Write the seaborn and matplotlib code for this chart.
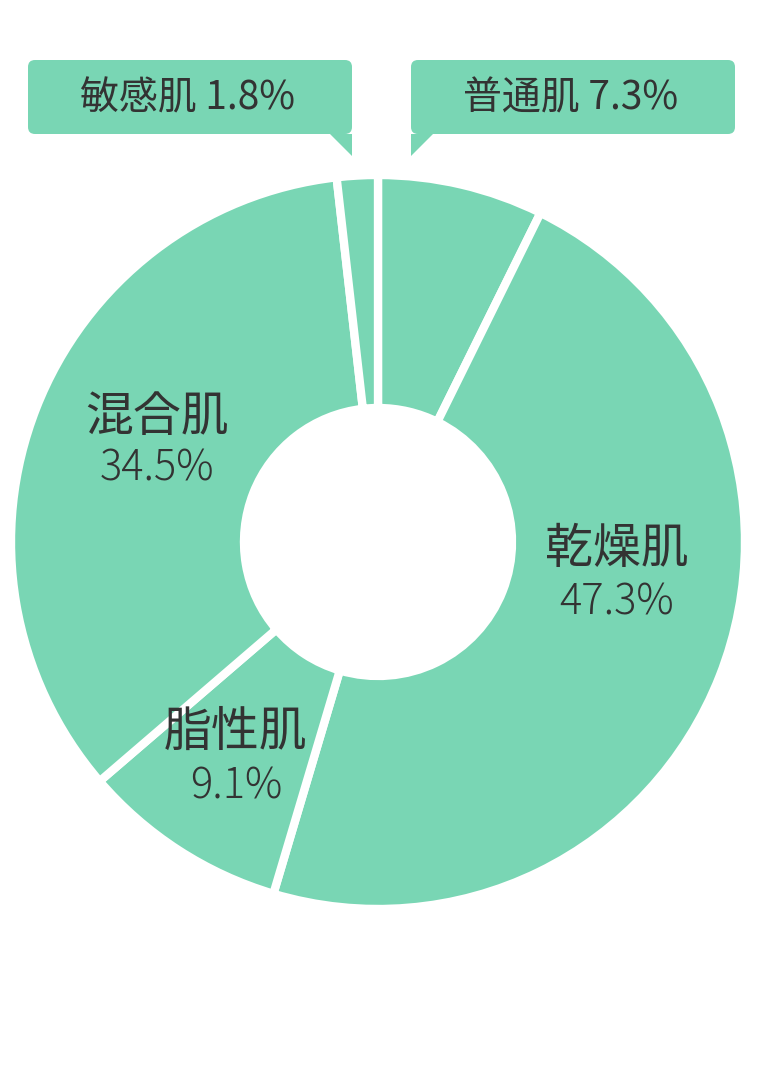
import numpy as np
import matplotlib
matplotlib.use("Agg")
import matplotlib.pyplot as plt
import seaborn as sns
from matplotlib.patches import FancyBboxPatch, Polygon

# Data
skin_types = ["普通肌", "乾燥肌", "脂性肌", "混合肌", "敏感肌"]
shares = [7.3, 47.3, 9.1, 34.5, 1.8]
pct_labels = ["7.3%", "47.3%", "9.1%", "34.5%", "1.8%"]

GREEN = "#79D6B4"
TEXT = "#333333"
W, H = 758, 1086

sns.set_theme(style="white")
plt.rcParams["font.family"] = ["Noto Sans CJK JP", "DejaVu Sans"]

fig = plt.figure(figsize=(W / 100, H / 100), dpi=100)
ax = fig.add_axes([0, 0, 1, 1])


def iy(y):
    # image y (top-down) -> axes y
    return H - y


# Donut
ax.pie(shares, colors=[GREEN] * len(shares), startangle=90, counterclock=False,
       center=(378, iy(542)), radius=367, frame=True,
       wedgeprops=dict(width=233, edgecolor="white", linewidth=6))
ax.set_xlim(0, W)
ax.set_ylim(0, H)
ax.set_aspect("equal")
ax.axis("off")

# Labels inside the ring
inner = {"乾燥肌": (617, 549, 603), "混合肌": (157, 417, 469), "脂性肌": (236, 732, 787)}
for name, pct in zip(skin_types, pct_labels):
    if name in inner:
        x, y1, y2 = inner[name]
        ax.text(x, iy(y1), name, ha="center", va="center", fontsize=34.5, color=TEXT)
        ax.text(x, iy(y2), pct, ha="center", va="center", fontsize=30,
                color=TEXT, fontweight="light")

# Callout boxes for small slices
callouts = {
    "敏感肌": dict(box=(28, 60, 324, 74), tri=[(330, 134), (352, 134), (352, 156)]),
    "普通肌": dict(box=(411, 60, 324, 74), tri=[(411, 134), (433, 134), (411, 156)]),
}
for name, pct in zip(skin_types, pct_labels):
    if name in callouts:
        bx, by, bw, bh = callouts[name]["box"]
        ax.add_patch(FancyBboxPatch((bx + 7, iy(by + bh) + 7), bw - 14, bh - 14,
                                    boxstyle="round,pad=7", fc=GREEN, ec="none"))
        ax.add_patch(Polygon([(x, iy(y)) for x, y in callouts[name]["tri"]],
                             closed=True, fc=GREEN, ec="none"))
        ax.text(bx + bw / 2 - 2, iy(by + bh / 2 + 1), f"{name} {pct}", ha="center", va="center",
                fontsize=28, color=TEXT)

fig.savefig("out.png", dpi=100, facecolor="white")
